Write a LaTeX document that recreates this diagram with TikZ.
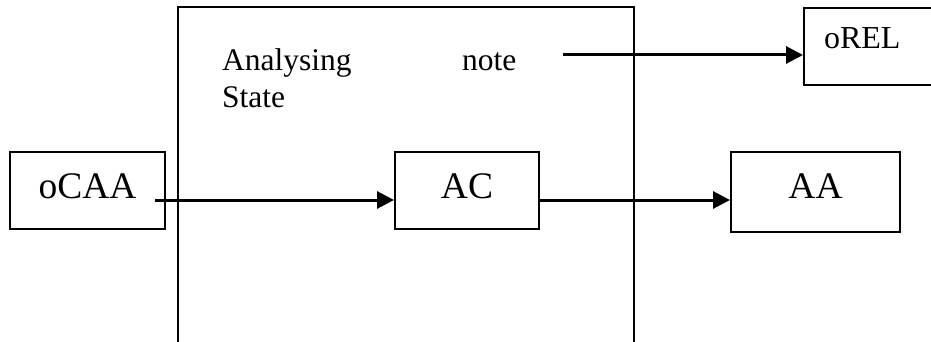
\documentclass[tikz,border=0pt]{standalone}
\usepackage{fontspec}
\setmainfont{Liberation Serif}
\usetikzlibrary{arrows.meta,calc}
\tikzset{
  boxnode/.style={draw,line width=2pt,inner sep=0pt,anchor=north west,font=\fontsize{37.5}{42}\selectfont},
  smalltext/.style={inner sep=0pt,anchor=base west,font=\fontsize{31.5}{36}\selectfont},
  flow/.style={line width=3pt,-{Triangle[length=17pt,width=17pt]}},
  frame/.style={line width=2pt}
}
\begin{document}
\begin{tikzpicture}[x=1pt,y=-1pt]
\useasboundingbox (0,0) rectangle (931,342);
\clip (0,0) rectangle (931,342);
% big open frame
\draw[frame] (178,345) -- (178,7) -- (634,7) -- (634,345);
% boxes
\node[boxnode,minimum width=155pt,minimum height=77pt,text height=24pt,text depth=9pt] (ocaa) at (9,151) {oCAA};
\node[boxnode,minimum width=144pt,minimum height=77pt,text height=24pt,text depth=9pt] (ac) at (394,151) {AC};
\node[boxnode,minimum width=169pt,minimum height=80pt,text height=24pt,text depth=12pt] (aa) at (730,151) {AA};
\node[boxnode,minimum width=140pt,minimum height=77pt,inner xsep=20pt,text width=100pt,align=left,text height=21pt,text depth=16pt,font=\fontsize{32}{36}\selectfont] (orel) at (803,7) {oREL};
% texts
\node[smalltext] (analysing) at (222,71) {Analysing};
\node[smalltext] (note) at (462,71) {note};
\node[smalltext] (state) at (222,108) {State};
% connectors
\coordinate (s1) at ($(ocaa.east)+(-11,9.5)$);
\draw[flow] (s1) -- (ac.west |- s1);
\coordinate (s2) at ($(ac.east)+(-1,9.5)$);
\draw[flow] (s2) -- (aa.west |- s2);
\coordinate (s3) at (563,55);
\draw[flow] (s3) -- (orel.west |- s3);
\end{tikzpicture}
\end{document}
